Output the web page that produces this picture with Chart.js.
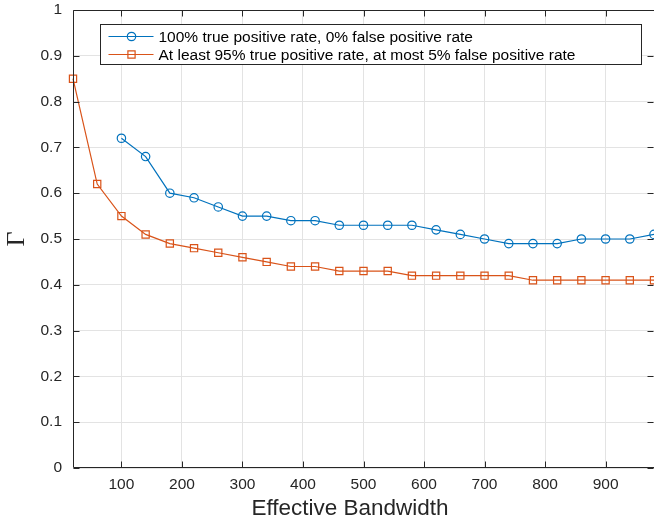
<!DOCTYPE html>
<html><head><meta charset="utf-8">
<script src="https://cdn.jsdelivr.net/npm/chart.js@4/dist/chart.umd.min.js"></script>
<style>html,body{margin:0;padding:0;background:#fff}#wrap{width:654px;height:520px}</style>
</head><body><div id="wrap"><canvas id="c" width="654" height="520"></canvas></div>
<script>
// ---- data ----
const bandwidth = [20,60,100,140,180,220,260,300,340,380,420,460,500,540,580,620,660,700,740,780,820,860,900,940,980];
const gammaPerfect = [null,null,0.72,0.68,0.60,0.59,0.57,0.55,0.55,0.54,0.54,0.53,0.53,0.53,0.53,0.52,0.51,0.50,0.49,0.49,0.49,0.50,0.50,0.50,0.51];
const gammaRelaxed = [0.85,0.62,0.55,0.51,0.49,0.48,0.47,0.46,0.45,0.44,0.44,0.43,0.43,0.43,0.42,0.42,0.42,0.42,0.42,0.41,0.41,0.41,0.41,0.41,0.41];
const seriesLabels = ['100% true positive rate, 0% false positive rate','At least 95% true positive rate, at most 5% false positive rate'];
const xTickValues = [100,200,300,400,500,600,700,800,900];
const xTickLabels = ['100','200','300','400','500','600','700','800','900'];
const yTickValues = [0,0.1,0.2,0.3,0.4,0.5,0.6,0.7,0.8,0.9,1];
const yTickLabels = ['0','0.1','0.2','0.3','0.4','0.5','0.6','0.7','0.8','0.9','1'];
const xTitle = 'Effective Bandwidth';
const yTitle = 'Γ';

const BLUE = '#0072BD', ORANGE = '#D95319', AX = '#262626';
const FONT = '"Liberation Sans", Arial, Helvetica, sans-serif';

function toPoints(vals){ return bandwidth.map((x,i)=>({x:x,y:vals[i]})).filter(p=>p.y!==null); }

const framePlugin = {
  id:'frame',
  afterDatasetsDraw(chart){
    const {ctx, chartArea:a, scales} = chart;
    ctx.save();
    ctx.strokeStyle = AX; ctx.lineWidth = 1;
    const L = Math.round(a.left)+0.5, R = Math.round(a.right)+0.5, T = Math.round(a.top)+0.5, B = Math.round(a.bottom)-0.5;
    ctx.beginPath();
    ctx.moveTo(L,T); ctx.lineTo(R,T); ctx.lineTo(R,B); ctx.lineTo(L,B); ctx.closePath();
    const tl = 6;
    xTickValues.forEach(v=>{ const x = Math.round(scales.x.getPixelForValue(v))+0.5;
      ctx.moveTo(x,B); ctx.lineTo(x,B-tl); ctx.moveTo(x,T); ctx.lineTo(x,T+tl); });
    yTickValues.forEach(v=>{ const y = Math.round(scales.y.getPixelForValue(v))+0.5;
      ctx.moveTo(L,y); ctx.lineTo(L+tl,y); ctx.moveTo(R-1,y); ctx.lineTo(R-1-tl,y); });
    ctx.stroke();

    // x-axis title (centered as in the reference)
    ctx.fillStyle = AX; ctx.font = '22.5px ' + FONT; ctx.textAlign = 'center'; ctx.textBaseline = 'middle';
    ctx.fillText(xTitle, Math.round(a.left) + 277, 509);

    // legend
    const bx = Math.round(a.left)+27.5, by = Math.round(a.top)+14.5, bw = 541, bh = 40;
    ctx.fillStyle = '#fff'; ctx.fillRect(bx,by,bw,bh);
    ctx.strokeStyle = AX; ctx.strokeRect(bx,by,bw,bh);
    ctx.font = '15.5px ' + FONT; ctx.textBaseline = 'middle'; ctx.textAlign = 'left';
    chart.data.datasets.forEach((ds,i)=>{
      const y = Math.round(by + 11 + i*18) + 0.5;
      const x0 = bx + 8, x1 = bx + 53, mx = bx + 31;
      ctx.strokeStyle = ds.borderColor; ctx.lineWidth = 1.2;
      ctx.beginPath(); ctx.moveTo(x0,y); ctx.lineTo(x1,y); ctx.stroke();
      ctx.beginPath();
      if (ds.pointStyle === 'rect'){ const s = 3.6; ctx.rect(mx-s,y-s,2*s,2*s); }
      else { ctx.arc(mx,y,4.2,0,Math.PI*2); }
      ctx.stroke();
      ctx.fillStyle = '#000';
      ctx.fillText(ds.label, bx + 58, y+1);
    });
    ctx.restore();
  }
};

new Chart(document.getElementById('c'), {
  type:'line',
  data:{ datasets:[
    { label:seriesLabels[0], data:toPoints(gammaPerfect), borderColor:BLUE, backgroundColor:'rgba(0,0,0,0)',
      borderWidth:1.2, pointStyle:'circle', pointRadius:4.2, pointBorderWidth:1.2, pointBackgroundColor:'rgba(0,0,0,0)', pointBorderColor:BLUE, tension:0, clip:false },
    { label:seriesLabels[1], data:toPoints(gammaRelaxed), borderColor:ORANGE, backgroundColor:'rgba(0,0,0,0)',
      borderWidth:1.2, pointStyle:'rect', pointRadius:5.1, pointBorderWidth:1.2, pointBackgroundColor:'rgba(0,0,0,0)', pointBorderColor:ORANGE, tension:0, clip:false }
  ]},
  options:{
    responsive:false, animation:false, events:[],
    layout:{ autoPadding:false, padding:{top:10,right:0,left:0,bottom:0} },
    plugins:{ legend:{display:false}, tooltip:{enabled:false} },
    scales:{
      x:{ type:'linear', min:20, max:980,
        afterBuildTicks(s){ s.ticks = xTickValues.map(v=>({value:v})); },
        afterFit(s){ s.height = 52; s.paddingLeft = 0; s.paddingRight = 0; },
        grid:{ color:'#e3e3e3', lineWidth:1, drawTicks:false },
        border:{ display:false },
        ticks:{ color:AX, font:{family:FONT,size:15.5}, padding:7, maxRotation:0, autoSkip:false,
          callback:(v,i)=>xTickLabels[i] },
        title:{ display:false, text:xTitle }
      },
      y:{ type:'linear', min:0, max:1,
        afterBuildTicks(s){ s.ticks = yTickValues.map(v=>({value:v})); },
        afterFit(s){ s.width = 73; s.paddingTop = 0; s.paddingBottom = 0; },
        grid:{ color:'#e3e3e3', lineWidth:1, drawTicks:false },
        border:{ display:false },
        ticks:{ color:AX, font:{family:FONT,size:15.5}, padding:11, autoSkip:false,
          callback:(v,i)=>yTickLabels[i] },
        title:{ display:true, text:yTitle, color:AX, font:{family:'"Liberation Serif", "DejaVu Serif", serif',size:26,lineHeight:1}, padding:{top:4,bottom:0} }
      }
    }
  },
  plugins:[framePlugin]
});
</script></body></html>
